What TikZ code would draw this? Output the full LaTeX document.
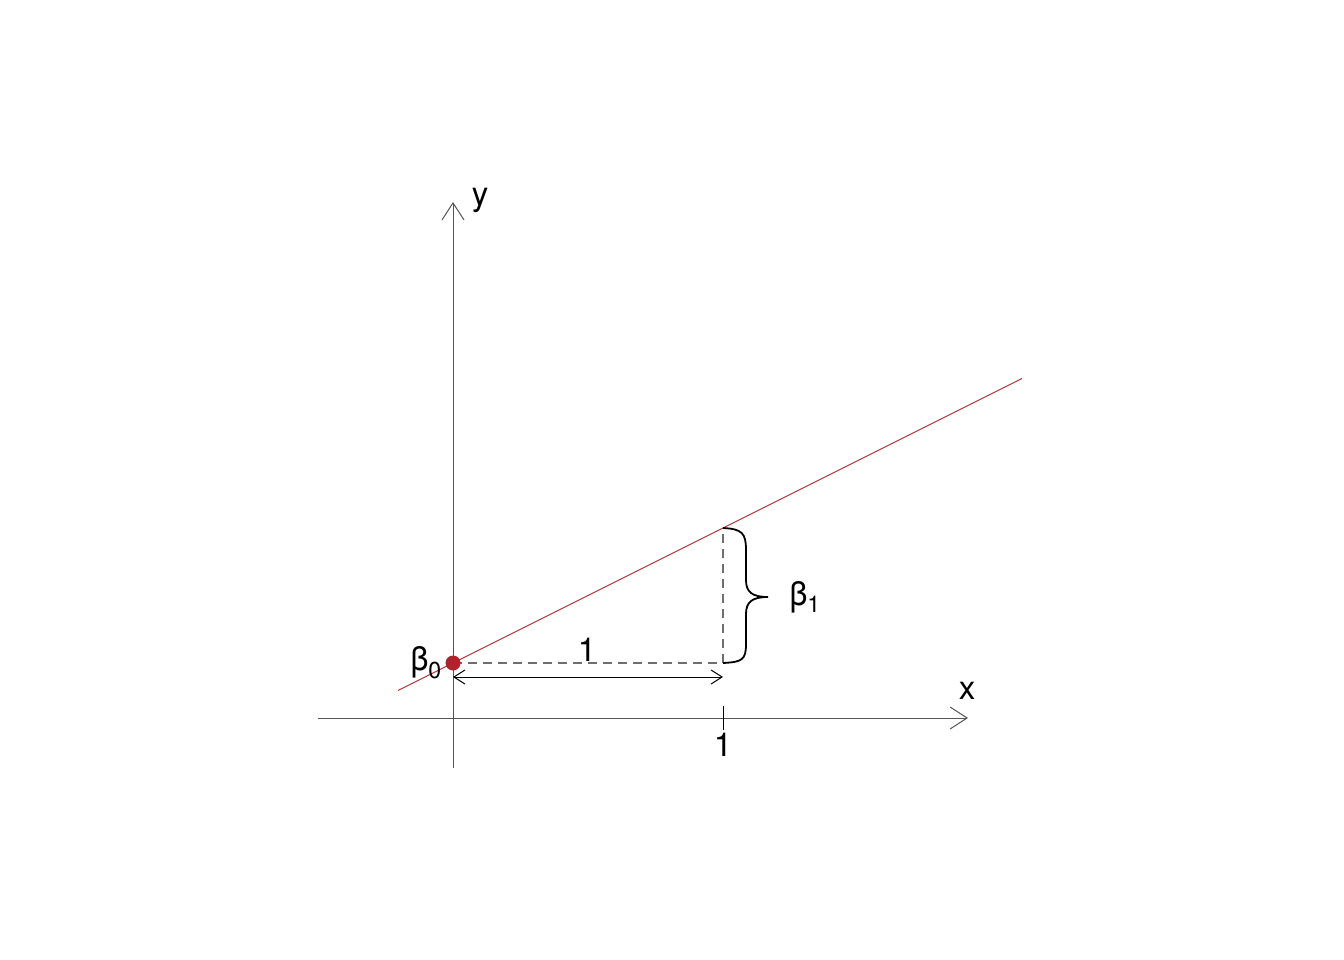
\documentclass[tikz,border=0pt]{standalone}
\usepackage{fontspec}
\setmainfont{TeX Gyre Heros}
\usetikzlibrary{arrows.meta}
\definecolor{axisgray}{HTML}{555555}
\definecolor{linered}{HTML}{B83338}
\definecolor{dotred}{HTML}{B2222A}
\tikzset{
  axis/.style={draw=axisgray, line width=1pt, -{Straight Barb[length=17pt,width=22pt,line width=1pt]}},
  guide/.style={draw=axisgray!85, line width=1.3pt, dash pattern=on 9pt off 6pt},
  dimarrow/.style={draw=black, line width=1pt, {Straight Barb[length=11pt,width=14pt,line width=1pt]}-{Straight Barb[length=11pt,width=14pt,line width=1pt]}},
  lbl/.style={font=\fontsize{33}{36}\selectfont, inner sep=0pt},
  bracestyle/.style={draw=black, line width=1.8pt}
}
\begin{document}
\begin{tikzpicture}[x=1pt,y=-1pt]
\useasboundingbox (0,0) rectangle (1344,960);
% coordinates
\coordinate (xs) at (318,718);
\coordinate (xe) at (968,718);
\coordinate (ys) at (453,768);
\coordinate (ye) at (453,202);
\coordinate (ls) at (398,690.5);
\coordinate (le) at (1022,378.5);
\coordinate (b0) at (453,663);
\coordinate (p1) at (723,663);
\coordinate (q1) at (723,528);
\coordinate (t1) at (723,706);
\coordinate (t2) at (723,730);
\coordinate (a1) at (453,677);
\coordinate (a2) at (723,677);
% axes
\draw[axis] (xs) -- (xe);
\draw[axis] (ys) -- (ye);
\draw[draw=black, line width=1pt] (t1) -- (t2);
% dashed guides
\draw[guide] (b0) -- (p1);
\draw[guide] (p1) -- (q1);
% regression line
\draw[draw=linered, line width=1pt] (ls) -- (le);
% dimension arrow
\draw[dimarrow] (a1) -- (a2);
% brace
\draw[bracestyle] (q1) .. controls (742,529) and (746,533) .. (746,550)
  -- (746,580) .. controls (746,592) and (752,597) .. (768,597)
  .. controls (752,597) and (746,602) .. (746,614)
  -- (746,644) .. controls (746,660) and (742,662) .. (p1);
% dot
\fill[dotred] (b0) circle (7.5pt);
% labels
\node[lbl] (lx) at (967,691) {x};
\node[lbl] (ly) at (480,200) {y};
\node[lbl] (l1a) at (723,745) {1};
\node[lbl] (l1b) at (587,650) {1};
\node[lbl] (lb0) at (426,663) {β\textsubscript{0}};
\node[lbl] (lb1) at (805,597) {β\textsubscript{1}};
\end{tikzpicture}
\end{document}
